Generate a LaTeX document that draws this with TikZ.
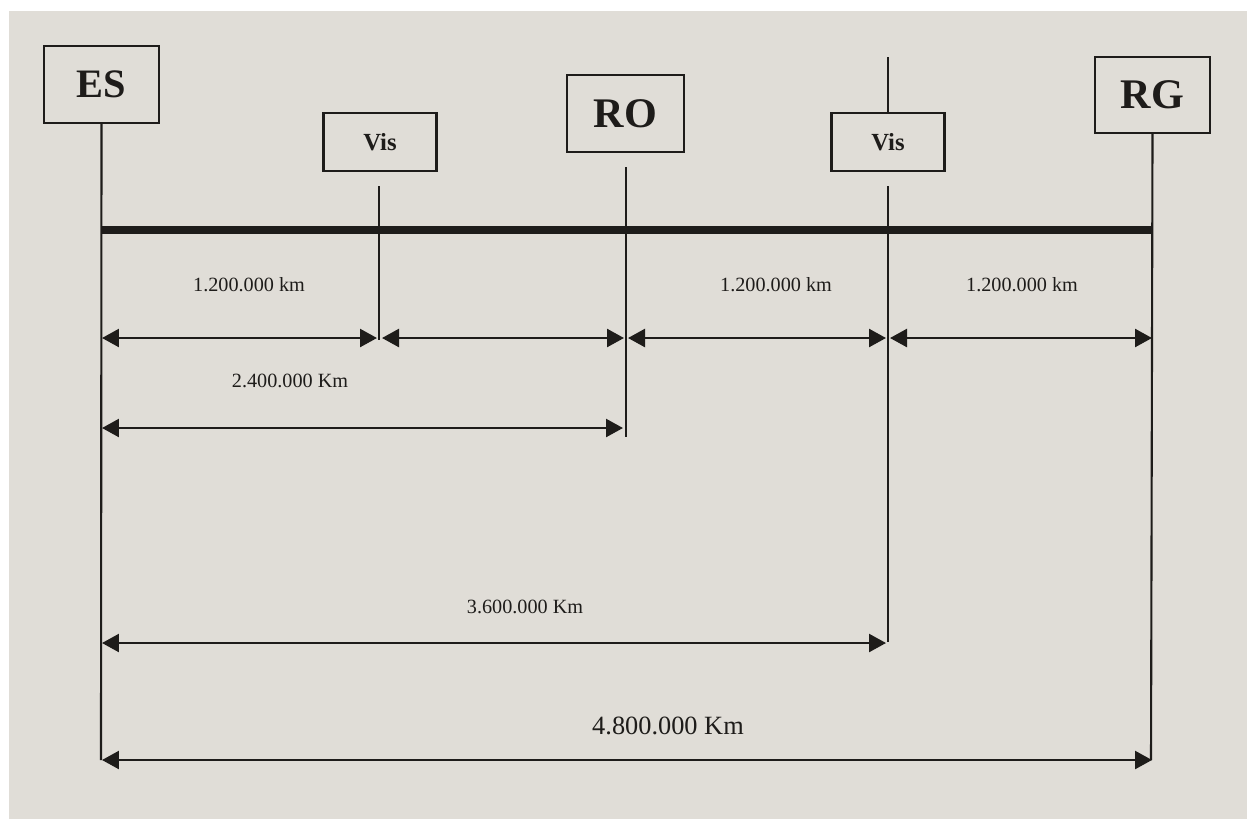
\documentclass[tikz,border=0pt]{standalone}
\usepackage{fontspec}
\setmainfont{Liberation Serif}
\usepackage{tikz}
\usetikzlibrary{arrows.meta}
\definecolor{paper}{RGB}{224,221,215}
\definecolor{ink}{RGB}{30,28,26}

\begin{document}
\begin{tikzpicture}[x=0.02cm, y=-0.02cm,
    station/.style={draw=ink, line width=1.2pt, inner sep=0pt, minimum width=2.3cm, minimum height=1.54cm, text=ink, font=\fontsize{23}{23}\selectfont\bfseries},
    visbox/.style={station, minimum width=2.26cm, minimum height=1.16cm, font=\fontsize{14}{14}\selectfont\bfseries},
    tick/.style={ink, line width=1.2pt},
    dist/.style={ink, line width=1.4pt, {Triangle[length=0.34cm,width=0.36cm]}-{Triangle[length=0.34cm,width=0.36cm]}},
    distlabel/.style={text=ink, font=\fontsize{11.5}{11.5}\selectfont}]
    % Background
    \useasboundingbox (0,0) rectangle (1247,819);
    \fill[paper] (9,11) rectangle (1247,819);

    % Stations
    \node (es) at (101.5,84.5) [station] {ES};
    \node (vis1) at (380,142) [visbox] {Vis};
    \node (ro) at (625.5,113.5) [station, minimum width=2.34cm, font=\fontsize{24}{24}\selectfont\bfseries] {RO};
    \node (vis2) at (888,142) [visbox] {Vis};
    \node (rg) at (1152.5,95) [station, minimum height=1.52cm, font=\fontsize{24}{24}\selectfont\bfseries] {RG};

    % Ends of the vertical lines
    \coordinate (esend) at (101,760);
    \coordinate (vis1top) at (379,186);
    \coordinate (vis1end) at (379,340);
    \coordinate (rotop) at (626,167);
    \coordinate (roend) at (626,437);
    \coordinate (vis2up) at (888,57);
    \coordinate (vis2top) at (888,186);
    \coordinate (vis2end) at (888,642);
    \coordinate (rgend) at (1151,760);

    \draw[tick] (es.south) -- (esend);
    \draw[tick] (vis1top) -- (vis1end);
    \draw[tick] (rotop) -- (roend);
    \draw[tick] (vis2up) -- (vis2.north);
    \draw[tick] (vis2top) -- (vis2end);
    \draw[tick] (rg.south) -- (rgend);

    % Route
    \coordinate (barl) at (101,230);
    \coordinate (barr) at (1151,230);
    \draw[ink, line width=4.6pt] (barl) -- (barr);

    % Partial distances
    \coordinate (a0) at (102,338);
    \coordinate (a1) at (377,338);
    \coordinate (a2) at (382,338);
    \coordinate (a3) at (624,338);
    \coordinate (a4) at (628,338);
    \coordinate (a5) at (886,338);
    \coordinate (a6) at (890,338);
    \coordinate (a7) at (1152,338);
    \draw[dist] (a0) -- (a1);
    \draw[dist] (a2) -- (a3);
    \draw[dist] (a4) -- (a5);
    \draw[dist] (a6) -- (a7);
    \node (l1) at (249,285) [distlabel] {1.200.000 km};
    \node (l2) at (776,285) [distlabel] {1.200.000 km};
    \node (l3) at (1022,285) [distlabel] {1.200.000 km};

    % Totals
    \coordinate (b0) at (102,428);
    \coordinate (b1) at (623,428);
    \draw[dist] (b0) -- (b1);
    \node (l4) at (290,381) [distlabel] {2.400.000 Km};

    \coordinate (c0) at (102,643);
    \coordinate (c1) at (886,643);
    \draw[dist] (c0) -- (c1);
    \node (l5) at (525,607) [distlabel] {3.600.000 Km};

    \coordinate (d0) at (102,760);
    \coordinate (d1) at (1152,760);
    \draw[dist] (d0) -- (d1);
    \node (l6) at (668,726) [distlabel, font=\fontsize{15}{15}\selectfont] {4.800.000 Km};
\end{tikzpicture}
\end{document}
